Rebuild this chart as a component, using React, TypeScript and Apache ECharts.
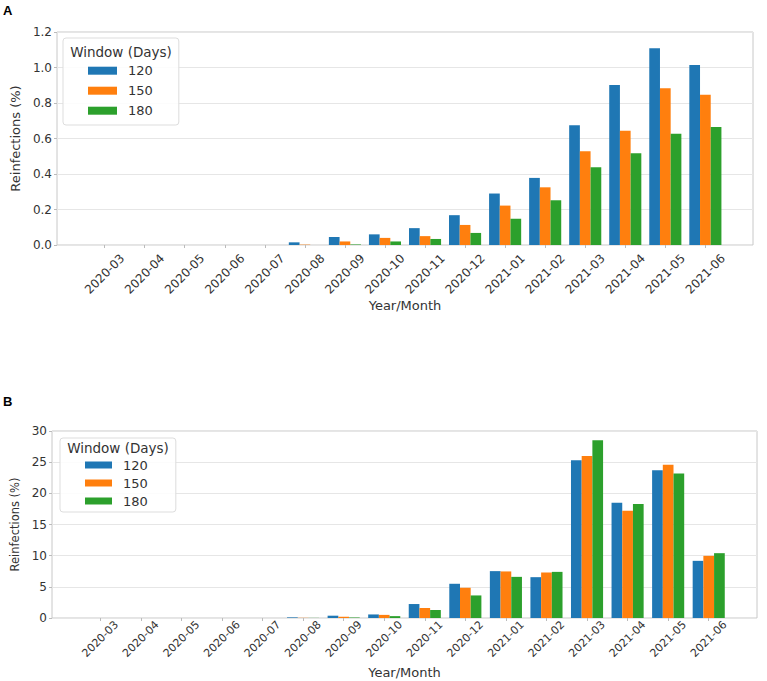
import React, { useEffect, useRef } from "react";
import * as echarts from "echarts";

const months = [
  "2020-03", "2020-04", "2020-05", "2020-06", "2020-07", "2020-08", "2020-09", "2020-10",
  "2020-11", "2020-12", "2021-01", "2021-02", "2021-03", "2021-04", "2021-05", "2021-06",
];
const windows = ["120", "150", "180"];
const colors = ["#1f77b4", "#ff7f0e", "#2ca02c"];

const a120 = [0, 0, 0, 0, 0, 0.015, 0.045, 0.06, 0.095, 0.168, 0.29, 0.378, 0.674, 0.901, 1.108, 1.014];
const a150 = [0, 0, 0, 0, 0, 0.002, 0.02, 0.04, 0.05, 0.113, 0.222, 0.325, 0.528, 0.644, 0.883, 0.847];
const a180 = [0, 0, 0, 0, 0, 0, 0.003, 0.02, 0.034, 0.068, 0.148, 0.252, 0.438, 0.517, 0.627, 0.665];

const b120 = [0, 0, 0, 0, 0, 0.1, 0.37, 0.57, 2.24, 5.49, 7.52, 6.55, 25.3, 18.5, 23.7, 9.17];
const b150 = [0, 0, 0, 0, 0, 0.03, 0.2, 0.5, 1.6, 4.85, 7.47, 7.3, 26.0, 17.2, 24.6, 9.97];
const b180 = [0, 0, 0, 0, 0, 0.02, 0.08, 0.3, 1.28, 3.62, 6.6, 7.4, 28.5, 18.3, 23.2, 10.4];

const FONT = "DejaVu Sans";
const TXT = "#333333";

export default function App() {
  const ref = useRef<HTMLDivElement>(null);
  useEffect(() => {
    if (!ref.current) return;
    const chart = echarts.init(ref.current, null, { renderer: "svg" });

    const frameGrid = (left: number, top: number, width: number, height: number) => ({
      left, top, width, height, show: true, borderColor: "#c8c8c8", borderWidth: 1, backgroundColor: "transparent",
    });
    const barGrid = (left: number, top: number, width: number, height: number) => ({
      left, top, width, height, show: false,
    });

    const hiddenX = (gi: number) => ({ type: "category", gridIndex: gi, data: months, show: false });
    const barX = (gi: number, fs: number, margin: number, nameGap: number) => ({
      type: "category",
      gridIndex: gi,
      data: months,
      axisLine: { show: false },
      axisTick: { show: true, alignWithLabel: true, length: 3, lineStyle: { color: "#bbbbbb" } },
      axisLabel: {
        rotate: 45, align: "center", verticalAlign: "middle", margin, interval: 0,
        fontFamily: FONT, fontSize: fs, color: TXT,
      },
      name: "Year/Month",
      nameLocation: "middle",
      nameGap,
      nameTextStyle: { fontFamily: FONT, fontSize: 13, color: TXT },
    });
    const frameY = (gi: number, max: number, interval: number, dec: number, nameFs: number, nameGap: number) => ({
      type: "value",
      gridIndex: gi,
      min: 0, max, interval,
      axisLine: { show: false },
      axisTick: { show: true, length: 3, lineStyle: { color: "#bbbbbb" } },
      splitLine: { show: true, lineStyle: { color: "#e6e6e6", width: 1 } },
      axisLabel: {
        margin: 5, fontFamily: FONT, fontSize: 12, color: TXT,
        formatter: (v: number) => v.toFixed(dec),
      },
      name: "Reinfections (%)",
      nameLocation: "middle",
      nameGap,
      nameTextStyle: { fontFamily: FONT, fontSize: nameFs, color: TXT },
    });
    const hiddenY = (gi: number, max: number, interval: number) => ({
      type: "value", gridIndex: gi, min: 0, max, interval, show: false, splitLine: { show: false },
    });

    const mkSeries = (vals: number[][], xi: number, yi: number) =>
      vals.map((d, i) => ({
        name: windows[i],
        type: "bar",
        xAxisIndex: xi,
        yAxisIndex: yi,
        data: d,
        barWidth: 10.7,
        barGap: "0%",
        itemStyle: { color: colors[i] },
        emphasis: { disabled: true },
      }));

    const legendCommon = {
      orient: "vertical",
      data: windows,
      icon: "rect",
      itemWidth: 29,
      backgroundColor: "rgba(255,255,255,0.85)",
      borderColor: "#dddddd",
      borderWidth: 1,
      borderRadius: 3,
      selectedMode: false,
      textStyle: { fontFamily: FONT, fontSize: 13, color: TXT, padding: [0, 0, 0, 6] },
    };

    chart.setOption({
      animation: false,
      backgroundColor: "#ffffff",
      grid: [
        frameGrid(57, 32, 696, 213),
        barGrid(84.6, 32, 640.8, 213),
        frameGrid(52, 431, 705, 187),
        barGrid(80, 431, 649, 187),
      ],
      xAxis: [hiddenX(0), barX(1, 12, 29, 50), hiddenX(2), barX(3, 11, 21, 48)],
      yAxis: [
        frameY(0, 1.2, 0.2, 1, 13, 29.5),
        hiddenY(1, 1.2, 0.2),
        frameY(2, 30, 5, 0, 11.5, 25),
        hiddenY(3, 30, 5),
      ],
      legend: [
        {
          ...legendCommon,
          left: 63, top: 38,
          itemHeight: 8,
          itemGap: 6,
          padding: [25.7, 26, 7.3, 25],
          textStyle: { ...legendCommon.textStyle, lineHeight: 14 },
        },
        {
          ...legendCommon,
          left: 60, top: 438,
          itemWidth: 27,
          itemHeight: 7,
          itemGap: 5,
          padding: [20.5, 28, 4.5, 25],
          textStyle: { ...legendCommon.textStyle, lineHeight: 13 },
        },
      ],
      graphic: [
        { type: "text", left: 3, top: 4, style: { text: "A", font: "bold 13px Liberation Sans", fill: "#000" } },
        { type: "text", left: 3, top: 395, style: { text: "B", font: "bold 13px Liberation Sans", fill: "#000" } },
        {
          type: "text", x: 121, y: 51.7, z: 100,
          style: { text: "Window (Days)", font: `13.5px ${FONT}`, fill: TXT, align: "center", verticalAlign: "middle" },
        },
        {
          type: "text", x: 118, y: 448, z: 100,
          style: { text: "Window (Days)", font: `13.5px ${FONT}`, fill: TXT, align: "center", verticalAlign: "middle" },
        },
      ],
      series: [
        ...mkSeries([a120, a150, a180], 1, 1),
        ...mkSeries([b120, b150, b180], 3, 3),
      ],
    });
    return () => chart.dispose();
  }, []);
  return <div ref={ref} style={{ position: "absolute", left: 0, top: 0, width: 767, height: 681 }} />;
}
